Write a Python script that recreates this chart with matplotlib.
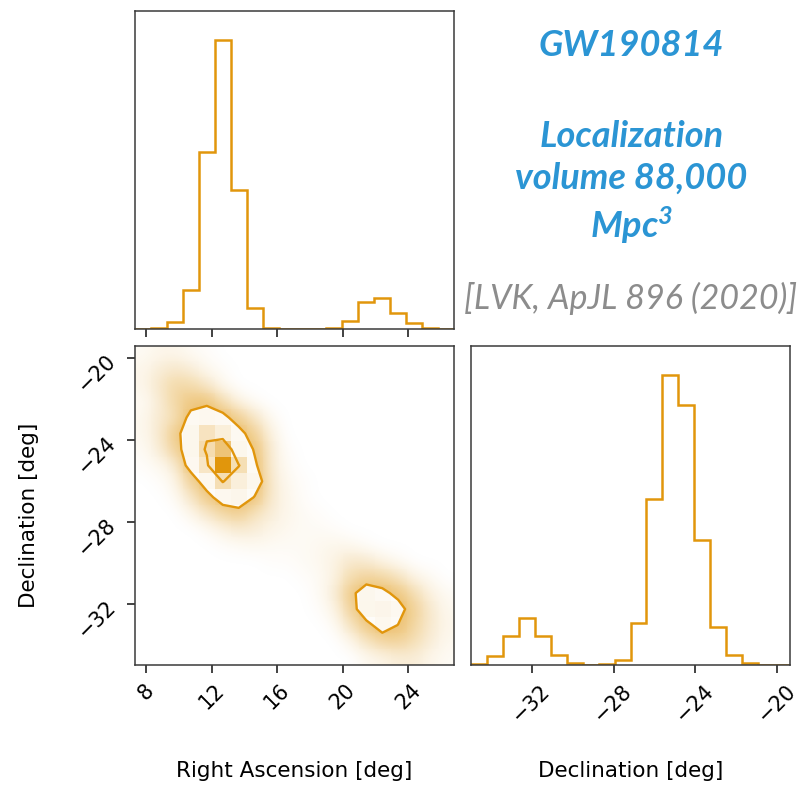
import numpy as np
import matplotlib
matplotlib.use("Agg")
import matplotlib.pyplot as plt
from matplotlib.colors import to_rgba

# Sky-position posterior for GW190814: 20 bins per axis over the sample range
ra_range = (7.33, 26.79)
dec_range = (-34.96, -19.38)
n_bins = 20

# 1D marginal counts (per 10k samples)
ra_counts = [1, 9, 87, 516, 2321, 3798, 1818, 271, 9, 0,
             1, 1, 9, 101, 354, 402, 214, 83, 9, 1]
dec_counts = [9, 85, 270, 439, 276, 94, 16, 3, 9, 50,
              389, 1555, 2721, 2439, 1172, 354, 97, 19, 3, 0]

# 2D counts: rows run from north (Dec -19.4) to south, columns in increasing RA
density = [
    [2, 4, 4, 2, 1, 0, 0, 0, 0, 0, 0, 0, 0, 0, 0, 0, 0, 0, 0, 0],
    [4, 8, 12, 8, 3, 1, 0, 0, 0, 0, 0, 0, 0, 0, 0, 0, 0, 0, 0, 0],
    [4, 12, 24, 22, 12, 3, 0, 0, 0, 0, 0, 0, 0, 0, 0, 0, 0, 0, 0, 0],
    [2, 8, 26, 45, 55, 18, 5, 1, 0, 0, 0, 0, 0, 0, 0, 0, 0, 0, 0, 0],
    [3, 10, 16, 90, 110, 92, 33, 12, 2, 0, 0, 0, 0, 0, 0, 0, 0, 0, 0, 0],
    [3, 10, 40, 128, 440, 258, 97, 30, 6, 0, 0, 0, 0, 0, 0, 0, 0, 0, 0, 0],
    [2, 8, 30, 130, 560, 950, 133, 63, 8, 1, 0, 0, 0, 0, 0, 0, 0, 0, 0, 0],
    [1, 3, 8, 100, 396, 1700, 519, 81, 8, 2, 0, 0, 0, 0, 0, 0, 0, 0, 0, 0],
    [0, 1, 4, 30, 110, 520, 250, 123, 10, 3, 1, 0, 0, 0, 0, 0, 0, 0, 0, 0],
    [0, 0, 2, 12, 43, 110, 136, 65, 10, 4, 1, 0, 0, 0, 0, 0, 0, 0, 0, 0],
    [0, 0, 0, 4, 12, 25, 36, 15, 8, 4, 2, 1, 0, 0, 0, 0, 0, 0, 0, 0],
    [0, 0, 0, 0, 2, 6, 10, 8, 5, 3, 2, 2, 1, 0, 0, 0, 0, 0, 0, 0],
    [0, 0, 0, 0, 0, 1, 2, 3, 2, 2, 2, 3, 4, 3, 1, 0, 0, 0, 0, 0],
    [0, 0, 0, 0, 0, 0, 0, 0, 1, 1, 2, 3, 6, 12, 10, 5, 2, 0, 0, 0],
    [0, 0, 0, 0, 0, 0, 0, 0, 0, 0, 1, 2, 6, 20, 28, 25, 14, 5, 2, 0],
    [0, 0, 0, 0, 0, 0, 0, 0, 0, 0, 0, 2, 8, 45, 120, 90, 48, 18, 6, 2],
    [0, 0, 0, 0, 0, 0, 0, 0, 0, 0, 0, 1, 5, 30, 130, 150, 100, 30, 10, 3],
    [0, 0, 0, 0, 0, 0, 0, 0, 0, 0, 0, 0, 2, 14, 45, 110, 68, 25, 10, 4],
    [0, 0, 0, 0, 0, 0, 0, 0, 0, 0, 0, 0, 0, 4, 14, 27, 30, 18, 8, 3],
    [0, 0, 0, 0, 0, 0, 0, 0, 0, 0, 0, 0, 0, 0, 3, 5, 8, 8, 4, 2],
]
contour_levels = [70, 500]

ra_ticks = [8, 12, 16, 20, 24]
dec_ticks = [-32, -28, -24, -20]

COLOR = "#E1960C"
BLUE = "#2B95D4"
GREY = "#8C8C8C"

plt.rcParams["mathtext.fontset"] = "custom"
plt.rcParams["mathtext.rm"] = "Lato:bold:italic"
plt.rcParams["mathtext.it"] = "Lato:bold:italic"


def style_axis(ax):
    for s in ax.spines.values():
        s.set_color("#3a3a3a")
        s.set_linewidth(1.1)
    ax.tick_params(direction="out", length=6, width=1.2, labelsize=15,
                   pad=5, color="#222222")


def main():
    ra_edges = np.linspace(ra_range[0], ra_range[1], n_bins + 1)
    dec_edges = np.linspace(dec_range[0], dec_range[1], n_bins + 1)
    H = np.array(density, dtype=float)[::-1]  # row 0 -> southernmost bin
    rgb = to_rgba(COLOR)[:3]

    fig = plt.figure(figsize=(7.99, 7.85), dpi=100)
    ax_top = fig.add_axes([0.169, 0.5809, 0.3993, 0.4055])
    ax_2d = fig.add_axes([0.169, 0.1529, 0.3993, 0.4068])
    ax_right = fig.add_axes([0.5895, 0.1529, 0.3993, 0.4068])

    # marginal histograms
    ax_top.stairs(ra_counts, ra_edges, color=COLOR, lw=1.8)
    ax_top.set_xlim(ra_range)
    ax_top.set_ylim(0, 1.1 * max(ra_counts))
    ax_top.set_yticks([])
    ax_top.set_xticks(ra_ticks)
    ax_top.tick_params(labelbottom=False)

    ax_right.stairs(dec_counts, dec_edges, color=COLOR, lw=1.8)
    ax_right.set_xlim(dec_range)
    ax_right.set_ylim(0, 1.1 * max(dec_counts))
    ax_right.set_yticks([])
    ax_right.set_xticks(dec_ticks)
    ax_right.set_xticklabels([f"\u2212{abs(t)}" for t in dec_ticks])

    # sample cloud drawn as a soft haze
    haze = np.zeros(H.shape + (4,))
    haze[..., :3] = rgb
    haze[..., 3] = 0.62 * (1.0 - np.exp(-H / 28.0))
    ax_2d.imshow(haze, extent=(ra_range[0], ra_range[1], dec_range[0], dec_range[1]),
                 origin="lower", aspect="auto", interpolation="bicubic", zorder=0)

    # contour grid on bin centres, padded so the levels close
    w_ra = ra_edges[1] - ra_edges[0]
    w_dec = dec_edges[1] - dec_edges[0]
    xc = np.concatenate([[ra_edges[0] - w_ra / 2], ra_edges[:-1] + w_ra / 2,
                         [ra_edges[-1] + w_ra / 2]])
    yc = np.concatenate([[dec_edges[0] - w_dec / 2], dec_edges[:-1] + w_dec / 2,
                         [dec_edges[-1] + w_dec / 2]])
    Hp = np.pad(H, 1)

    ax_2d.contourf(xc, yc, Hp, levels=[contour_levels[0], Hp.max() + 1],
                   colors="white", antialiased=False, zorder=1)

    # binned density, opacity scaled to the peak bin
    cells = np.zeros(H.shape + (4,))
    cells[..., :3] = rgb
    cells[..., 3] = H / H.max()
    ax_2d.imshow(cells, extent=(ra_range[0], ra_range[1], dec_range[0], dec_range[1]),
                 origin="lower", aspect="auto", interpolation="nearest", zorder=2)

    ax_2d.contour(xc, yc, Hp, levels=contour_levels, colors=COLOR,
                  linewidths=1.7, zorder=3)
    ax_2d.set_xlim(ra_range)
    ax_2d.set_ylim(dec_range)
    ax_2d.set_xticks(ra_ticks)
    ax_2d.set_yticks(dec_ticks)
    ax_2d.set_yticklabels([f"\u2212{abs(t)}" for t in dec_ticks])

    for ax in (ax_top, ax_2d, ax_right):
        style_axis(ax)
    ax_2d.tick_params(axis="both", labelrotation=45)
    ax_right.tick_params(axis="x", labelrotation=45)

    ax_2d.set_xlabel("Right Ascension [deg]", fontsize=15.5)
    ax_2d.xaxis.set_label_coords(0.5, -0.3)
    ax_2d.set_ylabel("Declination [deg]", fontsize=15.5)
    ax_2d.yaxis.set_label_coords(-0.3, 0.47)
    ax_right.set_xlabel("Declination [deg]", fontsize=15.5)
    ax_right.xaxis.set_label_coords(0.5, -0.3)

    fam = ["Lato", "DejaVu Sans"]
    fig.text(0.79, 1 - 45 / 785, "GW190814", ha="center", va="center",
             fontsize=26, color=BLUE, family=fam, weight="bold", style="italic")
    fig.text(0.79, 1 - 183 / 785, "Localization\nvolume 88,000\nMpc$^3$",
             ha="center", va="center", fontsize=26, color=BLUE, family=fam,
             weight="bold", style="italic", linespacing=1.3)
    fig.text(0.789, 1 - 298 / 785, "[LVK, ApJL 896 (2020)]", ha="center",
             va="center", fontsize=24.5, color=GREY, family=fam, style="italic")

    fig.savefig("out.png", dpi=100)


if __name__ == "__main__":
    main()
